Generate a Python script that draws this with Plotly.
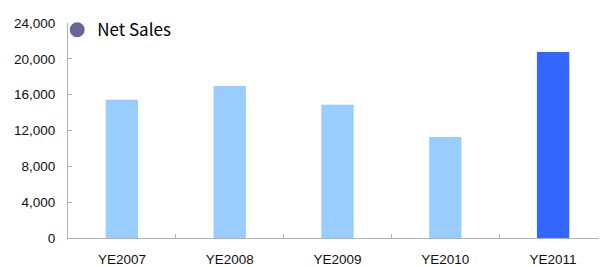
import plotly.graph_objects as go

categories = ["YE2007", "YE2008", "YE2009", "YE2010", "YE2011"]
net_sales = [15430, 16970, 14880, 11270, 20750]
bar_colors = ["#99CCFF", "#99CCFF", "#99CCFF", "#99CCFF", "#3366FF"]
y_ticks = [0, 4000, 8000, 12000, 16000, 20000, 24000]

fig = go.Figure()
fig.add_trace(go.Bar(
    x=categories, y=net_sales, marker=dict(color=bar_colors, line=dict(width=0)),
    width=0.3, showlegend=False, name="Net Sales",
))
fig.add_trace(go.Scatter(
    x=[None], y=[None], mode="markers", name="Net Sales",
    marker=dict(symbol="circle", size=15, color="#666699"), showlegend=True,
))

# page body has an 8px default margin, so the figure is sized to fit the window
fig.update_layout(
    width=599, height=259,
    margin=dict(l=60, r=0, t=15, b=26),
    paper_bgcolor="white", plot_bgcolor="white",
    font=dict(family="Liberation Sans", size=13.5, color="#222222"),
    legend=dict(
        x=-0.02, y=1.05, xanchor="left", yanchor="top",
        bgcolor="rgba(0,0,0,0)",
        font=dict(family="Noto Sans CJK JP", size=17, color="#000000"),
        itemwidth=30, tracegroupgap=0,
    ),
    bargap=0.7,
)
fig.update_xaxes(
    type="category", showline=True, linecolor="#B0B0B0", linewidth=1,
    ticks="inside", tickson="boundaries", ticklen=4, tickcolor="#B0B0B0",
    showgrid=False, zeroline=False, ticklabelstandoff=9,
    tickfont=dict(family="Liberation Sans", size=13.5, color="#111111"),
)
fig.update_yaxes(
    range=[0, 24000], tickvals=y_ticks, tickformat=",",
    showline=True, linecolor="#B0B0B0", linewidth=1,
    ticks="inside", ticklen=4, tickcolor="#B0B0B0",
    showgrid=False, zeroline=False, ticklabelstandoff=9,
    tickfont=dict(family="Liberation Sans", size=13.5, color="#111111"),
)

fig.write_html("out.html")
